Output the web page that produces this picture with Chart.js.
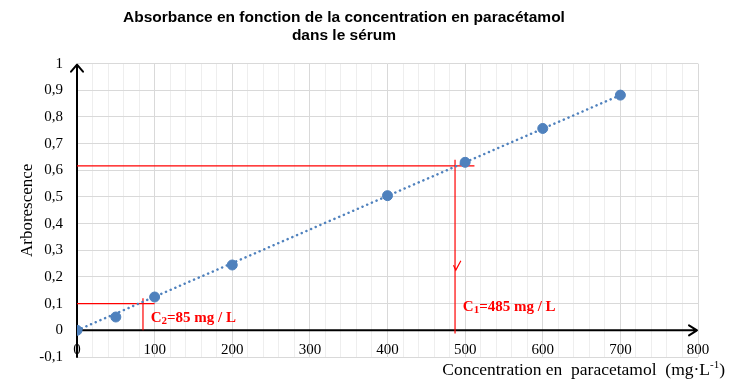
<!DOCTYPE html>
<html><head><meta charset="utf-8">
<script src="https://cdn.jsdelivr.net/npm/chart.js@4/dist/chart.umd.min.js"></script>
<style>html,body{margin:0;padding:0;background:#fff}</style>
</head><body>
<canvas id="c" width="730" height="382"></canvas>
<script>
// ---- data ----
const concentrations = [0, 50, 100, 200, 400, 500, 600, 700];
const absorbances   = [0, 0.05, 0.125, 0.245, 0.505, 0.63, 0.757, 0.882];
const trendX = [0, 700];
const trendY = [0, 0.882];
// construction lines (C1)
const c1HorizX = [0, 512];   const c1HorizY = [0.617, 0.617];
const c1VertX  = [487, 487]; const c1VertY  = [0.64, -0.012];
const c1MarkX  = [485, 488, 494.5]; const c1MarkY = [0.244, 0.226, 0.261];
// construction lines (C2)
const c2HorizX = [0, 100];   const c2HorizY = [0.1, 0.1];
const c2VertX  = [85, 85];   const c2VertY  = [0.12, 0];
const xRange = [0, 800];
const yRange = [-0.1, 1];
const titleLines = ['Absorbance en fonction de la concentration en paracétamol', 'dans le sérum'];
const yTitle = 'Arborescence';
const xTitleMain = 'Concentration en  paracetamol  (mg·L';
const xTitleSup = '-1';
const c1Label = { main: 'C', sub: '1', rest: '=485 mg / L', x: 497, y: 0.0726 };
const c2Label = { main: 'C', sub: '2', rest: '=85 mg / L', x: 95, y: 0.031 };

const pts = (xs, ys) => xs.map((x, i) => ({ x, y: ys[i] }));
const RED = '#ff0000';
const BLUE = '#4f81bd';
const redLine = (xs, ys) => ({ data: pts(xs, ys), borderColor: RED, borderWidth: 1.2, pointRadius: 0, showLine: true, fill: false, order: 3 });

const overlay = {
  id: 'overlay',
  afterLayout(chart) {
    // centre the two-line title over x ≈ 344 like the reference
    if (chart.titleBlock) { chart.titleBlock.left = 0; chart.titleBlock.right = 688; }
  },
  beforeDatasetsDraw(chart) {
    const { ctx, chartArea: a, scales: { x, y } } = chart;
    const x0 = x.getPixelForValue(0), y0 = y.getPixelForValue(0);
    ctx.save();
    ctx.strokeStyle = '#000'; ctx.lineWidth = 2; ctx.lineCap = 'round'; ctx.lineJoin = 'round';
    ctx.beginPath();
    ctx.moveTo(x0, a.bottom); ctx.lineTo(x0, a.top + 1);
    ctx.moveTo(x0 - 6, a.top + 8); ctx.lineTo(x0, a.top + 1); ctx.lineTo(x0 + 6, a.top + 8);
    ctx.moveTo(x0, y0); ctx.lineTo(a.right - 1, y0);
    ctx.moveTo(a.right - 9, y0 - 5); ctx.lineTo(a.right - 1, y0); ctx.lineTo(a.right - 9, y0 + 5);
    ctx.stroke();
    ctx.restore();
  },
  afterDatasetsDraw(chart) {
    const { ctx, scales: { x, y } } = chart;
    ctx.save();
    ctx.fillStyle = RED; ctx.textBaseline = 'alphabetic'; ctx.textAlign = 'left';
    for (const L of [c1Label, c2Label]) {
      let px = x.getPixelForValue(L.x), py = y.getPixelForValue(L.y);
      ctx.font = 'bold 15px "Liberation Serif"';
      ctx.fillText(L.main, px, py); px += ctx.measureText(L.main).width;
      ctx.font = 'bold 11px "Liberation Serif"';
      ctx.fillText(L.sub, px, py + 2); px += ctx.measureText(L.sub).width;
      ctx.font = 'bold 15px "Liberation Serif"';
      ctx.fillText(L.rest, px, py);
    }
    ctx.restore();
  },
  afterDraw(chart) {
    const { ctx } = chart;
    ctx.save();
    ctx.fillStyle = '#000'; ctx.textBaseline = 'alphabetic'; ctx.textAlign = 'left';
    const fMain = '17.5px "Liberation Serif"', fSup = '11px "Liberation Serif"';
    ctx.font = fMain; const w1 = ctx.measureText(xTitleMain).width, w3 = ctx.measureText(')').width;
    ctx.font = fSup; const w2 = ctx.measureText(xTitleSup).width;
    let px = 725 - (w1 + w2 + w3); const by = 375;
    ctx.font = fMain; ctx.fillText(xTitleMain, px, by); px += w1;
    ctx.font = fSup; ctx.fillText(xTitleSup, px, by - 7); px += w2;
    ctx.font = fMain; ctx.fillText(')', px, by);
    ctx.restore();
  }
};

const fmt = v => { const r = Math.round(v * 10) / 10; return (Number.isInteger(r) ? String(r) : r.toFixed(1)).replace('.', ','); };

new Chart(document.getElementById('c'), {
  type: 'scatter',
  data: {
    datasets: [
      { data: pts(concentrations, absorbances), backgroundColor: BLUE, borderColor: BLUE, pointRadius: 5, pointHoverRadius: 5, showLine: false, order: 0 },
      { data: pts(trendX, trendY), borderColor: BLUE, borderWidth: 2.5, borderDash: [0.1, 5], borderCapStyle: 'round', pointRadius: 0, showLine: true, fill: false, order: 1 },
      redLine(c1HorizX, c1HorizY),
      redLine(c1VertX, c1VertY),
      redLine(c1MarkX, c1MarkY),
      redLine(c2HorizX, c2HorizY),
      redLine(c2VertX, c2VertY)
    ]
  },
  options: {
    responsive: false,
    animation: false,
    layout: { padding: { left: 0, right: 32, top: 0, bottom: 0 } },
    plugins: {
      legend: { display: false },
      tooltip: { enabled: false },
      title: {
        display: true, text: titleLines, color: '#000',
        font: { family: '"Liberation Sans", Arial, sans-serif', size: 15.5, weight: 'bold', lineHeight: 1.15 },
        padding: { top: 9, bottom: 19 }
      }
    },
    scales: {
      x: {
        type: 'linear', min: xRange[0], max: xRange[1],
        border: { display: false },
        grid: { drawTicks: false, color: c => (Math.round(c.tick.value) % 100 === 0 ? '#d9d9d9' : '#eeeeee'), lineWidth: 1 },
        ticks: { stepSize: 20, autoSkip: false, maxRotation: 0, mirror: true, padding: -2, color: '#000',
          font: { family: '"Liberation Serif"', size: 15 },
          callback: v => (Math.round(v) % 100 === 0 ? String(Math.round(v)) : '') },
        afterFit: s => { s.height = 25; }
      },
      y: {
        type: 'linear', min: yRange[0], max: yRange[1],
        border: { display: false },
        grid: { drawTicks: false, color: '#d9d9d9', lineWidth: 1 },
        ticks: { stepSize: 0.1, padding: 14, color: '#000', font: { family: '"Liberation Serif"', size: 15 }, callback: fmt },
        title: { display: true, text: yTitle, color: '#000', font: { family: '"Liberation Serif"', size: 17 }, padding: { top: 17, bottom: 0 } },
        afterFit: s => { s.width = 77; }
      }
    }
  },
  plugins: [overlay]
});
</script>
</body></html>
